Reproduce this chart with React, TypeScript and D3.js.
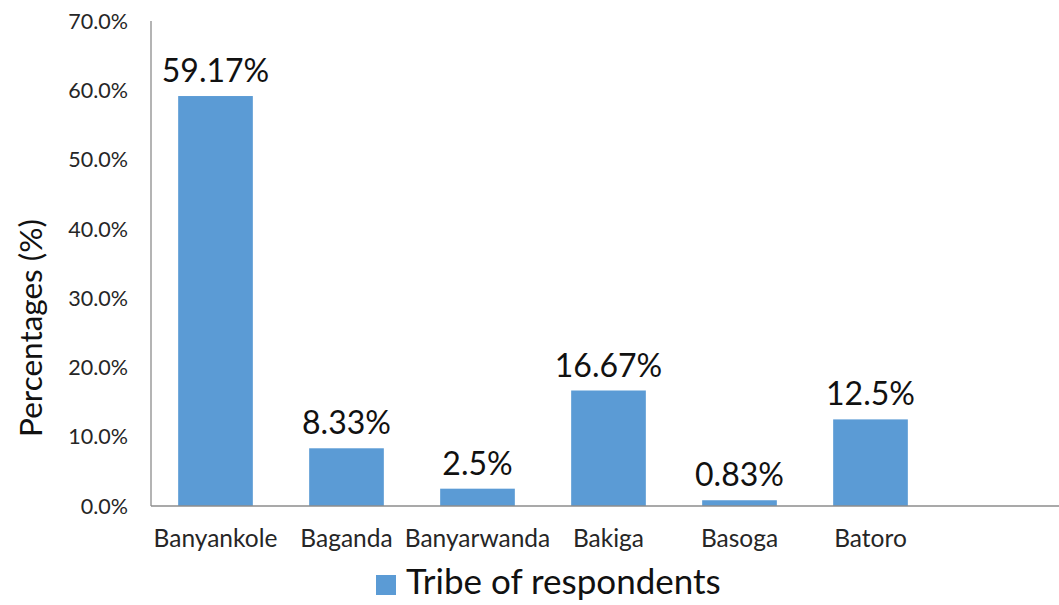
import * as d3 from "d3";

const tribes = ["Banyankole", "Baganda", "Banyarwanda", "Bakiga", "Basoga", "Batoro"];
const percentages = [59.17, 8.33, 2.5, 16.67, 0.83, 12.5];
const valueLabels = ["59.17%", "8.33%", "2.5%", "16.67%", "0.83%", "12.5%"];
const yTicks = [0, 10, 20, 30, 40, 50, 60, 70];
const seriesName = "Tribe of respondents";

const W = 1059;
const H = 605;
const FONT = "Lato, 'Open Sans', sans-serif";
const BAR = "#5b9bd5";

export default function App() {
  const left = 151;
  const baseY = 506;

  const x = d3.scaleBand<string>()
    .domain(tribes)
    .range([150, 936])
    .paddingInner(0.43)
    .paddingOuter(0.215);

  const y = d3.scaleLinear().domain([0, 70]).range([baseY, 21]);

  return (
    <svg
      width={W}
      height={H}
      style={{ position: "absolute", left: 0, top: 0, background: "#fff" }}
      fontFamily={FONT}
    >
      {/* bars */}
      {tribes.map((t, i) => (
        <rect
          key={t}
          x={x(t)}
          y={y(percentages[i])}
          width={x.bandwidth()}
          height={baseY - y(percentages[i])}
          fill={BAR}
        />
      ))}

      {/* axes */}
      <line x1={left} x2={left} y1={y(70)} y2={baseY} stroke="#8c8c8c" strokeWidth={1.3} />
      <line x1={left} x2={W} y1={baseY} y2={baseY} stroke="#8c8c8c" strokeWidth={1.3} />

      {yTicks.map((t) => (
        <text
          key={t}
          x={128}
          y={y(t)}
          dy="0.36em"
          textAnchor="end"
          fontSize={21.5}
          fill="#262626"
        >
          {t.toFixed(1) + "%"}
        </text>
      ))}

      {/* value labels */}
      {tribes.map((t, i) => (
        <text
          key={t}
          x={(x(t) ?? 0) + x.bandwidth() / 2}
          y={y(percentages[i]) - 14}
          textAnchor="middle"
          fontSize={32}
          fill="#111"
        >
          {valueLabels[i]}
        </text>
      ))}

      {/* category labels */}
      {tribes.map((t) => (
        <text
          key={t}
          x={(x(t) ?? 0) + x.bandwidth() / 2}
          y={547}
          textAnchor="middle"
          fontSize={24.5}
          fill="#262626"
        >
          {t}
        </text>
      ))}

      {/* y title */}
      <text
        transform="translate(42,328) rotate(-90)"
        textAnchor="middle"
        fontSize={31.5}
        fill="#111"
        style={{ whiteSpace: "pre" }}
      >
        Percentages (%)
      </text>

      {/* legend */}
      <rect x={376} y={575} width={20} height={20} fill={BAR} />
      <text x={406} y={594} fontSize={35} fill="#111">
        {seriesName}
      </text>
    </svg>
  );
}
